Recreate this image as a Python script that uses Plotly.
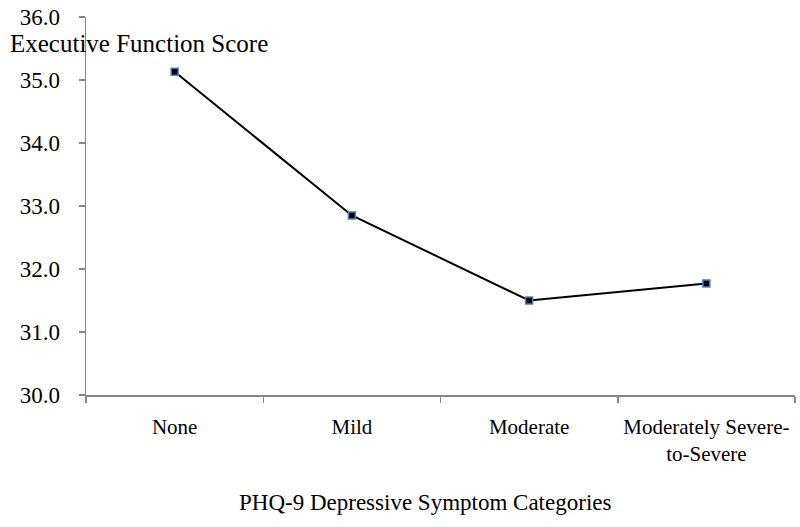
import plotly.graph_objects as go

categories = ["None", "Mild", "Moderate", "Moderately Severe-<br>to-Severe"]
scores = [35.13, 32.85, 31.50, 31.77]
y_ticks = [30, 31, 32, 33, 34, 35, 36]
y_tick_labels = ["30.0", "31.0", "32.0", "33.0", "34.0", "35.0", "36.0"]

FONT = "Liberation Serif, Times New Roman, serif"
AXIS_COLOR = "#868686"

fig = go.Figure()
fig.add_trace(go.Scatter(
    x=categories, y=scores, mode="lines+markers",
    line=dict(color="black", width=2),
    marker=dict(symbol="square", size=7, color="#000000",
                line=dict(color="#4F81BD", width=1.5)),
    showlegend=False, hoverinfo="skip",
))

W, H = 800, 527
L, R, T, B = 86, 5, 17, 132
pw = W - L - R
ph = H - T - B

def px_x(x):
    return (x - L) / pw

def px_y(y):
    return (H - B - y) / ph

fig.update_layout(
    width=W, height=H,
    margin=dict(l=L, r=R, t=T, b=B, autoexpand=False),
    plot_bgcolor="white", paper_bgcolor="white",
    font=dict(family=FONT, color="black"),
    xaxis=dict(
        type="category", range=[-0.5, 3.5],
        showline=True, linecolor=AXIS_COLOR, linewidth=1.5,
        showgrid=False, zeroline=False,
        ticks="outside", tickson="boundaries", ticklen=6,
        tickcolor=AXIS_COLOR, tickwidth=1.5,
        tickfont=dict(family=FONT, size=21, color="black"),
        ticklabelstandoff=12,
        ticklabeloverflow="allow", automargin=False,
    ),
    yaxis=dict(
        range=[30, 36],
        tickvals=y_ticks, ticktext=y_tick_labels,
        showline=True, linecolor=AXIS_COLOR, linewidth=1.5,
        showgrid=False, zeroline=False,
        ticks="outside", ticklen=6, tickcolor=AXIS_COLOR, tickwidth=1.5,
        tickfont=dict(family=FONT, size=23, color="black"),
        ticklabelstandoff=14,
        ticklabeloverflow="allow", automargin=False,
    ),
    annotations=[
        dict(text="Executive Function Score", xref="paper", yref="paper",
             x=px_x(8), y=px_y(43), xanchor="left", yanchor="middle",
             showarrow=False, font=dict(family=FONT, size=25, color="black")),
        dict(text="PHQ-9 Depressive Symptom Categories", xref="paper", yref="paper",
             x=px_x(425), y=px_y(503), xanchor="center", yanchor="middle",
             showarrow=False, font=dict(family=FONT, size=23, color="black")),
    ],
)

fig.write_html(
    "out.html",
    config={"displayModeBar": False, "staticPlot": True},
    post_script="document.body.style.margin='0';document.body.style.overflow='hidden';",
)
